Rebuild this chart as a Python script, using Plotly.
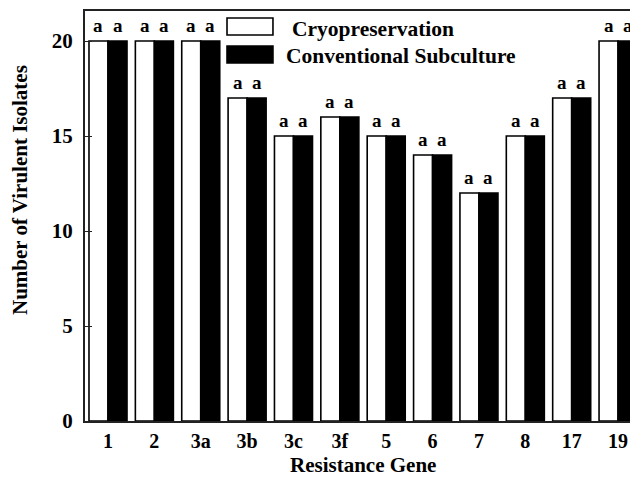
import plotly.graph_objects as go

genes = ["1", "2", "3a", "3b", "3c", "3f", "5", "6", "7", "8", "17", "19"]
cryo = [20, 20, 20, 17, 15, 16, 15, 14, 12, 15, 17, 20]
conventional = [20, 20, 20, 17, 15, 16, 15, 14, 12, 15, 17, 20]
cryo_letters = ["a"] * len(genes)
conv_letters = ["a"] * len(genes)
series_names = ["Cryopreservation", "Conventional Subculture"]

FONT = "Liberation Serif"
BW = 0.41
xs = list(range(len(genes)))

fig = go.Figure()
fig.add_trace(go.Bar(
    x=xs, y=cryo, name=series_names[0], width=BW, offset=-BW,
    marker=dict(color="white", line=dict(color="black", width=1.6)),
))
fig.add_trace(go.Bar(
    x=xs, y=conventional, name=series_names[1], width=BW, offset=0,
    marker=dict(color="black", line=dict(color="black", width=1.6)),
))

# significance letters above each bar
for i in xs:
    for dx, val, lab in ((-BW / 2, cryo[i], cryo_letters[i]), (BW / 2, conventional[i], conv_letters[i])):
        fig.add_annotation(x=i + dx, y=val, xref="x", yref="y", text=lab, showarrow=False,
                           xanchor="center", yanchor="bottom", yshift=3,
                           font=dict(family=FONT, size=19, color="black", weight="bold"))

# custom legend drawn in paper coordinates
legend_box_y = [(0.9415, 0.9829), (0.8732, 0.9146)]
legend_text_y = [0.9566, 0.8907]
legend_text_x = [0.3707, 0.3599]
legend_fill = ["white", "black"]
for i in range(2):
    fig.add_shape(type="rect", xref="paper", yref="paper",
                  x0=0.2568, x1=0.3399, y0=legend_box_y[i][0], y1=legend_box_y[i][1],
                  line=dict(color="black", width=1.6), fillcolor=legend_fill[i])
    fig.add_annotation(xref="paper", yref="paper", x=legend_text_x[i], y=legend_text_y[i],
                       text=series_names[i], showarrow=False, xanchor="left", yanchor="middle",
                       font=dict(family=FONT, size=21.5, color="black", weight="bold"))

# axis titles
fig.add_annotation(xref="paper", yref="paper", x=0.5027, y=-0.1085, text="Resistance Gene",
                   showarrow=False, xanchor="center", yanchor="middle",
                   font=dict(family=FONT, size=21, color="black", weight="bold"))
fig.add_annotation(xref="paper", yref="paper", x=-0.1166, y=0.5622, text="Number of Virulent Isolates",
                   showarrow=False, xanchor="center", yanchor="middle", textangle=-90,
                   font=dict(family=FONT, size=21, color="black", weight="bold"))

fig.update_layout(
    width=630, height=470,
    margin=dict(l=77, r=0, t=3, b=57),
    paper_bgcolor="white", plot_bgcolor="white",
    barmode="overlay",
    showlegend=False,
    font=dict(family=FONT, color="black", weight="bold"),
    xaxis=dict(
        range=[-0.496, 11.43], tickmode="array", tickvals=xs, ticktext=genes,
        showline=True, linecolor="#222", linewidth=2, mirror=True,
        showgrid=False, ticks="", zeroline=False, ticklabelstandoff=1,
        tickfont=dict(family=FONT, size=20, color="black", weight="bold"),
    ),
    yaxis=dict(
        range=[0, 21.58], tickvals=[0, 5, 10, 15, 20],
        showline=True, linecolor="#222", linewidth=2,
        showgrid=False, zeroline=False, ticks="inside", ticklen=7, tickcolor="#222",
        ticklabelstandoff=6,
        tickfont=dict(family=FONT, size=21, color="black", weight="bold"),
    ),
)

fig.write_html("out.html")
